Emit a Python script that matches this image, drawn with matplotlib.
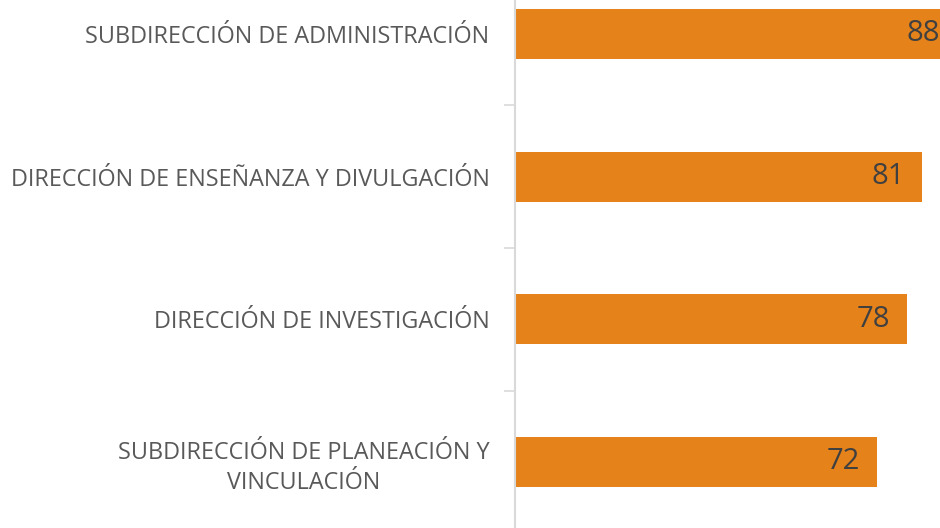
import matplotlib
matplotlib.use('Agg')
from matplotlib import pyplot as plt
from matplotlib.ticker import FixedLocator

categories = ['SUBDIRECCIÓN DE PLANEACIÓN Y\nVINCULACIÓN',
              'DIRECCIÓN DE INVESTIGACIÓN',
              'DIRECCIÓN DE ENSEÑANZA Y DIVULGACIÓN',
              'SUBDIRECCIÓN DE ADMINISTRACIÓN']
values = [72, 78, 81, 88]

plt.rcParams['font.family'] = ['Open Sans', 'DejaVu Sans']

fig = plt.figure(figsize=(9.4, 5.28), dpi=100)
ax = fig.add_axes([514.5 / 940, 0, 425.5 / 940, 1])

pos = list(range(len(values)))
ax.barh(pos, values, height=0.35, color='#E5821A')

for p, v in zip(pos, values):
    ax.annotate(str(v), (v, p), xytext=(-12, 0), textcoords='offset points',
                ha='right', va='center', fontsize=21, color='#404040',
                annotation_clip=False)

ax.set_xlim(0, 84.6)
ax.set_ylim(-0.4625, 3.237)

ax.set_yticks(pos)
ax.set_yticklabels(categories, fontsize=16.8, color='#595959')
for lab in ax.get_yticklabels():
    lab.set_multialignment('center')
    lab.set_linespacing(1.35)
ax.yaxis.set_minor_locator(FixedLocator([0.5, 1.5, 2.5]))
ax.tick_params(axis='y', which='major', length=0, pad=18)
ax.tick_params(axis='y', which='minor', length=8, width=1.2, color='#D9D9D9')
ax.set_xticks([])

for s in ['top', 'right', 'bottom']:
    ax.spines[s].set_visible(False)
ax.spines['left'].set_color('#D9D9D9')
ax.spines['left'].set_linewidth(1.5)

fig.savefig('out.png', dpi=100)
